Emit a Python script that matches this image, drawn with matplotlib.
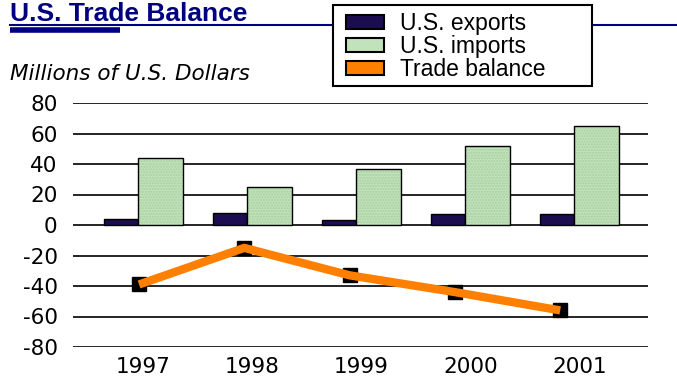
import numpy as np
import matplotlib.pyplot as plt
from matplotlib.patches import Patch, Rectangle
from matplotlib.lines import Line2D

# Data (millions of U.S. dollars)
years = ["1997", "1998", "1999", "2000", "2001"]
exports = [4, 8, 3, 7, 7]
imports = [44, 25, 37, 52, 65]
balance = [-39, -15, -33, -44, -56]

navy = "#000080"
export_color = "#1c0c50"
import_color = "#c2e2bb"
orange = "#ff8000"

plt.rcParams["font.family"] = ["DejaVu Sans"]
plt.rcParams["axes.unicode_minus"] = False

W, H = 677, 377
fig = plt.figure(figsize=(W / 100, H / 100), dpi=100)
ax = fig.add_axes([73 / W, 1 - 347 / H, 575 / W, 244 / H])

x = np.arange(len(years))
w_exp = 0.31
w_imp = 0.41
off = (w_exp + w_imp) / 2

# bars
ax.bar(x - off + w_exp / 2, exports, width=w_exp, color=export_color,
       edgecolor="black", linewidth=1, zorder=3)
ax.bar(x - off + w_exp + w_imp / 2, imports, width=w_imp, color=import_color,
       hatch="......", edgecolor="#a6cfa0", linewidth=0, zorder=3)
ax.bar(x - off + w_exp + w_imp / 2, imports, width=w_imp, fill=False,
       edgecolor="black", linewidth=1, zorder=4)

ax.set_xlim(-0.647, 4.628)
ax.set_ylim(-80, 80)
ax.set_yticks(np.arange(-80, 81, 20))
ax.set_xticks(x)
ax.set_xticklabels(years)
ax.yaxis.grid(True, color="black", linewidth=1.2, zorder=1)
ax.set_axisbelow(True)
for s in ax.spines.values():
    s.set_visible(False)
ax.tick_params(axis="both", length=0, labelsize=15.5, pad=7)
ax.tick_params(axis="y", pad=11)

# trade balance line on its own x scale, markers underneath
ax2 = ax.twiny()
ax2.set_xlim(-0.627, 4.834)
ax2.set_ylim(-80, 80)
ax2.plot(x, balance, linestyle="none", marker="s", markersize=10,
         color="black", zorder=4)
ax2.plot(x, balance, color=orange, linewidth=6, zorder=5,
         solid_capstyle="butt")
ax2.axis("off")

# title and rules
fig.text(10 / W, 1 - 21 / H, "U.S. Trade Balance", color=navy,
         family="Liberation Sans", fontsize=19, fontweight="bold",
         va="baseline", ha="left")
fig.add_artist(Line2D([10 / W, 1.0], [1 - 25 / H] * 2,
                      color=navy, linewidth=1.5))
fig.add_artist(Line2D([10 / W, 120 / W], [1 - 29.5 / H] * 2,
                      color=navy, linewidth=4, solid_capstyle="butt"))

fig.text(10 / W, 1 - 80 / H, "Millions of U.S. Dollars", fontsize=15.5,
         style="italic", va="baseline", ha="left")

# legend box
box = Rectangle((333 / W, 1 - 86 / H), 259 / W, 81 / H,
                transform=fig.transFigure, facecolor="white",
                edgecolor="black", linewidth=1.5, zorder=9)
fig.add_artist(box)

handles = [
    Patch(facecolor=export_color, edgecolor="black", linewidth=1.5),
    Patch(facecolor=import_color, edgecolor="black", linewidth=1.5),
    Patch(facecolor=orange, edgecolor="black", linewidth=1.5),
]
leg = fig.legend(handles, ["U.S. exports", "U.S. imports", "Trade balance"],
                 loc="upper left", bbox_to_anchor=(346 / W, 1 - 12 / H),
                 prop={"family": "Liberation Sans", "size": 16.5},
                 frameon=False, labelspacing=0.0, handlelength=1.65,
                 handleheight=0.6, handletextpad=0.7, borderpad=0,
                 borderaxespad=0)
leg.set_zorder(10)

fig.savefig("out.png", dpi=100)
